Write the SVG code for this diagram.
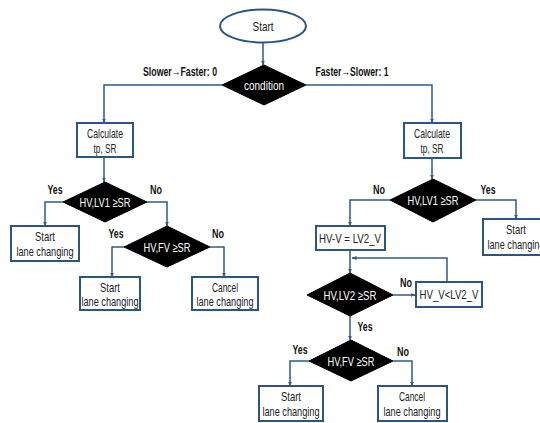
<svg xmlns="http://www.w3.org/2000/svg" width="540" height="423" viewBox="0 0 540 423">
<defs>
<marker id="ah" viewBox="0 0 10 10" refX="9" refY="5" markerWidth="5" markerHeight="5" orient="auto" markerUnits="userSpaceOnUse">
<path d="M0,1 L10,5 L0,9 z" fill="#2e5b8c"/>
</marker>
<style>
.box{fill:#fff;stroke:#2b5584;stroke-width:2}
.dia{fill:#000;stroke:#000;stroke-width:1}
.t{font-family:"Liberation Sans",sans-serif;font-size:13px;fill:#222;text-anchor:middle}
.tw{font-family:"Liberation Sans",sans-serif;font-size:13px;fill:#fff;text-anchor:middle}
.lb{font-family:"Liberation Sans",sans-serif;font-size:12.5px;font-weight:bold;fill:#111;text-anchor:middle}
.c{fill:none;stroke:#2e5b8c;stroke-width:1.5;marker-end:url(#ah)}
</style>
</defs>
<rect width="540" height="423" fill="#fff"/>
<g id="connectors">
<path class="c" d="M263,43 V65"/>
<path class="c" d="M222,85 H104 V123"/>
<path class="c" d="M306,85 H432 V123"/>
<path class="c" d="M104,157 V182"/>
<path class="c" d="M63,202 H45 V226"/>
<path class="c" d="M147,202 H167 V226"/>
<path class="c" d="M124,247 H112 V277"/>
<path class="c" d="M210,247 H224 V277"/>
<path class="c" d="M432,158 V179"/>
<path class="c" d="M390,200 H350 V226"/>
<path class="c" d="M476,200 H516 V219"/>
<path class="c" d="M350,250 V273"/>
<path class="c" d="M393,295 H415"/>
<path class="c" d="M447,282 V258 H352"/>
<path class="c" d="M350,316 V340"/>
<path class="c" d="M309,361 H290 V386"/>
<path class="c" d="M393,361 H412 V386"/>
<text class="lb" x="180" y="76" textLength="74" lengthAdjust="spacingAndGlyphs">Slower→Faster: 0</text>
<text class="lb" x="352" y="76" textLength="73" lengthAdjust="spacingAndGlyphs">Faster→Slower: 1</text>
<text class="lb" x="55" y="194" textLength="15" lengthAdjust="spacingAndGlyphs">Yes</text>
<text class="lb" x="156" y="194" textLength="12" lengthAdjust="spacingAndGlyphs">No</text>
<text class="lb" x="116" y="238" textLength="15" lengthAdjust="spacingAndGlyphs">Yes</text>
<text class="lb" x="218" y="238" textLength="12" lengthAdjust="spacingAndGlyphs">No</text>
<text class="lb" x="379" y="194" textLength="12" lengthAdjust="spacingAndGlyphs">No</text>
<text class="lb" x="488" y="194" textLength="15" lengthAdjust="spacingAndGlyphs">Yes</text>
<text class="lb" x="406" y="287" textLength="12" lengthAdjust="spacingAndGlyphs">No</text>
<text class="lb" x="365" y="331" textLength="15" lengthAdjust="spacingAndGlyphs">Yes</text>
<text class="lb" x="300" y="354" textLength="15" lengthAdjust="spacingAndGlyphs">Yes</text>
<text class="lb" x="403" y="356" textLength="12" lengthAdjust="spacingAndGlyphs">No</text>
</g>
<g id="start">
<ellipse cx="263" cy="26" rx="43" ry="16.5" fill="#fff" stroke="#2b5584" stroke-width="2"/>
<text class="t" x="263" y="30.5" textLength="21" lengthAdjust="spacingAndGlyphs">Start</text>
</g>
<g id="condition">
<polygon class="dia" points="264,65 306,85 264,105 222,85"/>
<text class="tw" x="264" y="89.5" textLength="40" lengthAdjust="spacingAndGlyphs">condition</text>
</g>
<g id="calcL">
<rect class="box" x="77" y="123" width="56" height="34"/>
<text class="t" x="105" y="138" textLength="36" lengthAdjust="spacingAndGlyphs">Calculate</text>
<text class="t" x="105" y="153" textLength="23" lengthAdjust="spacingAndGlyphs">tp, SR</text>
</g>
<g id="calcR">
<rect class="box" x="404" y="123" width="57" height="35"/>
<text class="t" x="432" y="138" textLength="36" lengthAdjust="spacingAndGlyphs">Calculate</text>
<text class="t" x="432" y="153" textLength="23" lengthAdjust="spacingAndGlyphs">tp, SR</text>
</g>
<g id="decL1">
<polygon class="dia" points="105,182 147,202 105,222 63,202"/>
<text class="tw" x="105" y="206.5" textLength="51" lengthAdjust="spacingAndGlyphs">HV,LV1 ≥SR</text>
</g>
<g id="startL1">
<rect class="box" x="11" y="226" width="68" height="35"/>
<text class="t" x="45" y="241" textLength="20" lengthAdjust="spacingAndGlyphs">Start</text>
<text class="t" x="45" y="256" textLength="57" lengthAdjust="spacingAndGlyphs">lane changing</text>
</g>
<g id="decL2">
<polygon class="dia" points="167,226 210,247 167,267 124,247"/>
<text class="tw" x="167" y="251.5" textLength="47" lengthAdjust="spacingAndGlyphs">HV,FV ≥SR</text>
</g>
<g id="startL2">
<rect class="box" x="80" y="277" width="60" height="33"/>
<text class="t" x="110" y="291.5" textLength="20" lengthAdjust="spacingAndGlyphs">Start</text>
<text class="t" x="110" y="306" textLength="57" lengthAdjust="spacingAndGlyphs">lane changing</text>
</g>
<g id="cancelL">
<rect class="box" x="192" y="277" width="66" height="33"/>
<text class="t" x="225" y="291.5" textLength="26" lengthAdjust="spacingAndGlyphs">Cancel</text>
<text class="t" x="225" y="306" textLength="57" lengthAdjust="spacingAndGlyphs">lane changing</text>
</g>
<g id="decR1">
<polygon class="dia" points="433,179 476,200 433,222 390,200"/>
<text class="tw" x="433" y="204.5" textLength="51" lengthAdjust="spacingAndGlyphs">HV,LV1 ≥SR</text>
</g>
<g id="startR1">
<rect class="box" x="483" y="219" width="66" height="36"/>
<text class="t" x="516" y="234" textLength="20" lengthAdjust="spacingAndGlyphs">Start</text>
<text class="t" x="516" y="249" textLength="57" lengthAdjust="spacingAndGlyphs">lane changing</text>
</g>
<g id="hvv">
<rect class="box" x="316" y="226" width="69" height="24"/>
<text class="t" x="350" y="242.5" textLength="62" lengthAdjust="spacingAndGlyphs">HV-V = LV2_V</text>
</g>
<g id="decR2">
<polygon class="dia" points="350,273 393,295 350,316 307,295"/>
<text class="tw" x="350" y="299.5" textLength="53" lengthAdjust="spacingAndGlyphs">HV,LV2 ≥SR</text>
</g>
<g id="hvvlt">
<rect class="box" x="416" y="282" width="66" height="25"/>
<text class="t" x="449" y="299" textLength="59" lengthAdjust="spacingAndGlyphs">HV_V&lt;LV2_V</text>
</g>
<g id="decR3">
<polygon class="dia" points="351,340 393,361 351,381 309,361"/>
<text class="tw" x="351" y="365.5" textLength="47" lengthAdjust="spacingAndGlyphs">HV,FV ≥SR</text>
</g>
<g id="startR2">
<rect class="box" x="259" y="386" width="64" height="35"/>
<text class="t" x="291" y="400.5" textLength="20" lengthAdjust="spacingAndGlyphs">Start</text>
<text class="t" x="291" y="415.5" textLength="57" lengthAdjust="spacingAndGlyphs">lane changing</text>
</g>
<g id="cancelR">
<rect class="box" x="378" y="386" width="69" height="35"/>
<text class="t" x="412" y="400.5" textLength="26" lengthAdjust="spacingAndGlyphs">Cancel</text>
<text class="t" x="412" y="415.5" textLength="57" lengthAdjust="spacingAndGlyphs">lane changing</text>
</g>
</svg>
